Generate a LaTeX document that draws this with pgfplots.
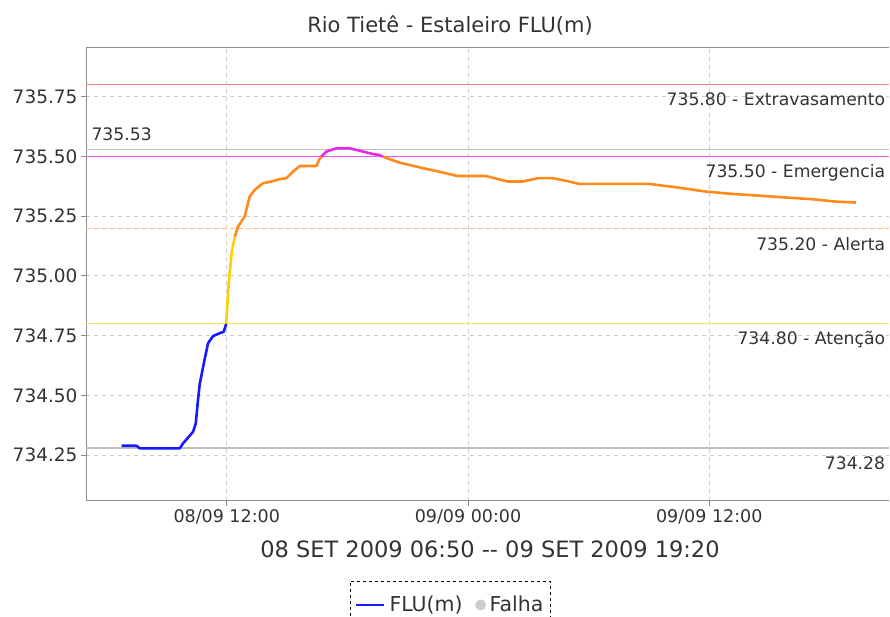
\documentclass[border=0pt]{standalone}
\usepackage{pgfplots}
\pgfplotsset{compat=1.18}
\usepackage{fontspec}
\setmainfont{DejaVu Sans}
\definecolor{txt}{RGB}{51,51,51}
\definecolor{serblue}{RGB}{25,25,255}
\definecolor{seryellow}{RGB}{255,208,0}
\definecolor{serorange}{RGB}{255,138,26}
\definecolor{sermagenta}{RGB}{232,40,232}
\definecolor{thred}{RGB}{255,125,125}
\definecolor{thmag}{RGB}{240,90,240}
\definecolor{thorange}{RGB}{255,185,135}
\definecolor{thyellow}{RGB}{250,228,120}
\definecolor{thgray}{RGB}{190,190,190}
\definecolor{gridgray}{RGB}{205,205,205}
\definecolor{axgray}{RGB}{140,140,140}
\pgfplotsset{lineleg/.style={legend image code/.code={\draw[##1,solid] (0pt,0pt) -- (28pt,0pt);}}}
\begin{document}
\begin{tikzpicture}
\useasboundingbox (0pt,0pt) rectangle (890pt,617pt);
\node[font=\fontsize{21}{25}\selectfont, text=txt] at (450pt,592pt) {Rio Tietê - Estaleiro FLU(m)};
\node[font=\fontsize{22.5}{26}\selectfont, text=txt] at (490pt,68pt) {08 SET 2009 06:50 -{}- 09 SET 2009 19:20};
\begin{axis}[
  at={(86pt,116.3pt)}, anchor=south west,
  scale only axis, width=803pt, height=452.7pt,
  xmin=5, xmax=44.94, ymin=734.059, ymax=735.954,
  axis x line*=bottom, axis y line*=left,
  axis line style={axgray, line width=1pt},
  tick style={axgray, line width=0.8pt},
  tick align=outside, major tick length=5pt,
  xtick={12,24,36},
  xticklabels={08/09 12:00, 09/09 00:00, 09/09 12:00},
  ytick={734.25,734.5,734.75,735,735.25,735.5,735.75},
  yticklabel style={font=\fontsize{18.5}{20}\selectfont, /pgf/number format/fixed, /pgf/number format/fixed zerofill, /pgf/number format/precision=2, /pgf/number format/1000 sep={}, /pgf/number format/assume math mode=true},
  ticklabel style={text=txt},
  xticklabel style={font=\fontsize{17.5}{20}\selectfont},
  grid=major,
  major grid style={gridgray, dash pattern=on 4pt off 4pt, line width=0.8pt},
  legend style={at={(0.4535,-0.1774)}, anchor=north, draw=black, dashed, line width=0.8pt,
    font=\fontsize{20.5}{24}\selectfont, text=txt, legend columns=-1,
    /tikz/every odd column/.append style={column sep=2pt},
    inner ysep=13pt, inner xsep=5pt},
]
% threshold lines
\addplot[forget plot, thred, line width=1.2pt] coordinates {(5,735.80) (44.94,735.80)};
\addplot[forget plot, thgray, line width=1.2pt] coordinates {(5,735.53) (44.94,735.53)};
\addplot[forget plot, thmag, line width=1.2pt] coordinates {(5,735.50) (44.94,735.50)};
\addplot[forget plot, thorange, line width=1.2pt, dash pattern=on 5pt off 3pt] coordinates {(5,735.20) (44.94,735.20)};
\addplot[forget plot, thyellow, line width=1.2pt] coordinates {(5,734.80) (44.94,734.80)};
\addplot[forget plot, thgray, line width=1.2pt] coordinates {(5,734.28) (44.94,734.28)};
% series
\addplot[serblue, line width=2.6pt, line join=round, lineleg] coordinates {
(6.77,734.289) (7.51,734.289) (7.68,734.278) (9.66,734.278) (9.83,734.299) (10.33,734.348)
(10.46,734.383) (10.57,734.480) (10.66,734.550) (10.86,734.634) (11.07,734.718) (11.32,734.748)
(11.65,734.760) (11.85,734.766) (11.94,734.790) (11.97,734.800)};
\addlegendentry{FLU(m)\rule{11pt}{0pt}}
\addplot[forget plot, seryellow, line width=2.6pt, line join=round] coordinates {
(11.97,734.800) (12.10,734.970) (12.25,735.100) (12.40,735.164)};
\addplot[forget plot, serorange, line width=2.6pt, line join=round] coordinates {
(12.40,735.164) (12.56,735.206) (12.89,735.248) (13.14,735.332) (13.39,735.360) (13.80,735.388)
(14.22,735.395) (14.63,735.405) (14.97,735.409) (15.29,735.436) (15.63,735.460) (16.46,735.460)
(16.59,735.485) (16.70,735.499)};
\addplot[forget plot, sermagenta, line width=2.6pt, line join=round] coordinates {
(16.70,735.499) (16.95,735.520) (17.45,735.534) (18.11,735.534) (18.61,735.524) (19.27,735.510)
(19.60,735.506) (19.77,735.499)};
\addplot[forget plot, serorange, line width=2.6pt, line join=round] coordinates {
(19.77,735.499) (20.60,735.474) (21.76,735.451) (22.58,735.436) (23.49,735.418) (24.90,735.418)
(25.98,735.395) (26.72,735.395) (27.47,735.409) (28.21,735.409) (29.04,735.395) (29.54,735.385)
(31.53,735.385) (33.02,735.385) (34.34,735.371) (35.83,735.353) (37.16,735.343) (38.48,735.336)
(39.64,735.329) (41.13,735.321) (42.30,735.311) (43.29,735.307)};
\addlegendimage{only marks, mark=*, mark size=5pt, mark options={solid, fill=gray!40, draw=gray!40}}
\addlegendentry{Falha}
% top border
\draw[axgray, line width=1pt] (rel axis cs:0,1) -- (rel axis cs:1,1);
% threshold labels
\node[anchor=east, yshift=-14pt, font=\fontsize{17.2}{19}\selectfont, text=txt] at (axis cs:44.92,735.80) {735.80 - Extravasamento};
\node[anchor=east, yshift=-16pt, font=\fontsize{17.2}{19}\selectfont, text=txt] at (axis cs:44.92,735.50) {735.50 - Emergencia};
\node[anchor=east, yshift=-16pt, font=\fontsize{17.2}{19}\selectfont, text=txt] at (axis cs:44.92,735.20) {735.20 - Alerta};
\node[anchor=east, yshift=-16pt, font=\fontsize{17.2}{19}\selectfont, text=txt] at (axis cs:44.92,734.80) {734.80 - Atenção};
\node[anchor=east, yshift=-15pt, font=\fontsize{17.2}{19}\selectfont, text=txt] at (axis cs:44.92,734.28) {734.28};
\node[anchor=west, yshift=15pt, font=\fontsize{17.2}{19}\selectfont, text=txt] at (axis cs:5.1,735.53) {735.53};
\end{axis}
\end{tikzpicture}
\end{document}
